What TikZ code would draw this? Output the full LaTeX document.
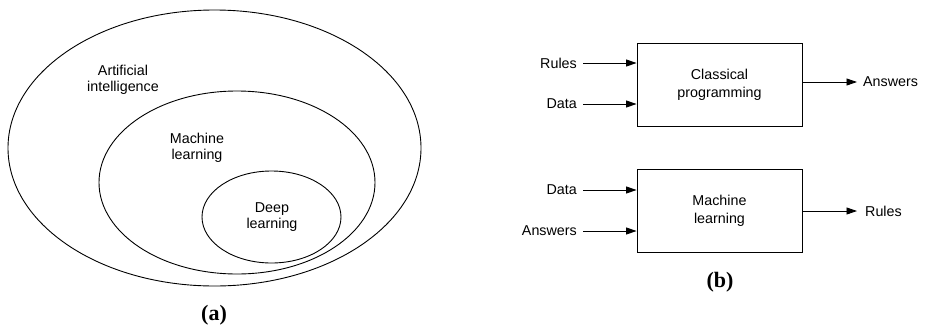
\documentclass[tikz,border=0pt]{standalone}
\usepackage{fontspec}
\setmainfont{Liberation Sans}
\newfontfamily\capfont{Liberation Serif}
\usetikzlibrary{shapes.geometric,arrows.meta}
\begin{document}
\begin{tikzpicture}[x=1pt,y=-1pt,
  ring/.style={draw,ellipse,line width=0.9pt,inner sep=0pt},
  lbl/.style={font=\fontsize{14.3}{16.5}\selectfont,align=center,inner sep=0pt},
  iolbl/.style={font=\fontsize{14.3}{16.5}\selectfont,inner ysep=0pt,inner xsep=6pt},
  procbox/.style={draw,line width=0.9pt,minimum width=165pt,minimum height=83pt,inner sep=0pt,font=\fontsize{14.3}{18}\selectfont,align=center},
  arr/.style={line width=0.9pt,-{Triangle[length=10.5pt,width=7pt]}},
  caption/.style={font=\capfont\bfseries\fontsize{22}{24}\selectfont,inner sep=0pt}]
\useasboundingbox (0,0) rectangle (926,327);
% (a)
\node[ring,minimum width=413pt,minimum height=276pt] (ai) at (214.5,148) {};
\node[ring,minimum width=276pt,minimum height=183pt] (ml) at (237,182.5) {};
\node[ring,minimum width=139pt,minimum height=92pt] (dl) at (271.5,217) {};
\node[lbl] (ait) at (123,80) {Artificial\\intelligence};
\node[lbl] (mlt) at (197,148) {Machine\\learning};
\node[lbl] (dlt) at (272,217) {Deep\\learning};
\node[caption] (capa) at (214,315) {(a)};
% (b)
\node[procbox] (cp) at (719.5,84.5) {Classical\\programming};
\node[procbox] (mlb) at (719.5,210.5) {Machine\\learning};
\node[iolbl,anchor=east] (r1) at (583,63) {Rules};
\node[iolbl,anchor=east] (d1) at (583,104) {Data};
\node[iolbl,anchor=west] (a1) at (857,82) {Answers};
\node[iolbl,anchor=east] (d2) at (583,190) {Data};
\node[iolbl,anchor=east] (a2) at (583,231) {Answers};
\node[iolbl,anchor=west,inner xsep=8pt] (r2) at (857,211) {Rules};
\draw[arr] (r1.east) -- (cp.west |- r1.east);
\draw[arr] (d1.east) -- (cp.west |- d1.east);
\draw[arr] (cp.east |- a1.west) -- (a1.west);
\draw[arr] (d2.east) -- (mlb.west |- d2.east);
\draw[arr] (a2.east) -- (mlb.west |- a2.east);
\draw[arr] (mlb.east |- r2.west) -- (r2.west);
\node[caption] (capb) at (720,282) {(b)};
\end{tikzpicture}
\end{document}
